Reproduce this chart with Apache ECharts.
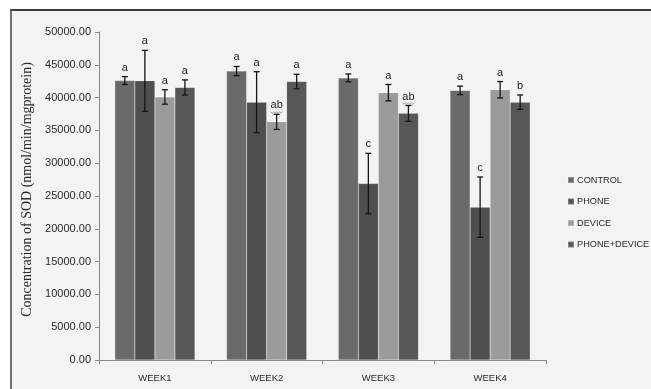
<!DOCTYPE html>
<html>
<head>
<meta charset="utf-8">
<script src="https://cdn.jsdelivr.net/npm/echarts@6/dist/echarts.min.js"></script>
<style>
  html, body { margin: 0; padding: 0; background: #ffffff; }
  #frame {
    position: absolute; left: 10px; top: 9px; width: 700px; height: 420px;
    border-top: 2px solid #3c3c3c; border-left: 2px solid #6e6e6e;
    background: #f3f3f3;
  }
  #chart { position: absolute; left: 0; top: 0; width: 651px; height: 389px; }
</style>
</head>
<body>
<div id="frame"></div>
<div id="chart"></div>
<script>
// Weekly SOD concentration per treatment group
const categories = ['WEEK1', 'WEEK2', 'WEEK3', 'WEEK4'];
const groups = ['CONTROL', 'PHONE', 'DEVICE', 'PHONE+DEVICE'];

const controlValues     = [42600, 44050, 43000, 41100];
const phoneValues       = [42550, 39300, 26900, 23300];
const deviceValues      = [40100, 36300, 40750, 41200];
const phoneDeviceValues = [41550, 42450, 37600, 39300];

// standard deviations drawn as error bars
const controlErr     = [600, 700, 600, 650];
const phoneErr       = [4650, 4650, 4600, 4600];
const deviceErr      = [1100, 1150, 1250, 1250];
const phoneDeviceErr = [1150, 1100, 1200, 1100];

// significance letters
const controlSig     = ['a', 'a', 'a', 'a'];
const phoneSig       = ['a', 'a', 'c', 'c'];
const deviceSig      = ['a', 'ab', 'a', 'a'];
const phoneDeviceSig = ['a', 'a', 'ab', 'b'];

const yTicks = { min: 0, max: 50000, interval: 5000 };

const colors = ['#6a6a6a', '#4f4f4f', '#9b9b9b', '#575757'];
const valueSets = [controlValues, phoneValues, deviceValues, phoneDeviceValues];
const errSets = [controlErr, phoneErr, deviceErr, phoneDeviceErr];
const sigSets = [controlSig, phoneSig, deviceSig, phoneDeviceSig];

const CATEGORY_GAP = 0.283;

const errorData = [];
valueSets.forEach((vals, s) => {
  vals.forEach((v, c) => {
    errorData.push([c, v, errSets[s][c], s, sigSets[s][c]]);
  });
});

const barSeries = groups.map((name, s) => ({
  name: name,
  type: 'bar',
  data: valueSets[s],
  barGap: '0%',
  barCategoryGap: (CATEGORY_GAP * 100) + '%',
  itemStyle: { color: colors[s], borderColor: 'rgba(255,255,255,0.25)', borderWidth: 0.5 },
  z: 2
}));

const errorSeries = {
  type: 'custom',
  name: 'err',
  data: errorData,
  encode: { x: 0, y: 1 },
  z: 5,
  silent: true,
  renderItem: function (params, api) {
    const c = api.value(0);
    const v = api.value(1);
    const e = api.value(2);
    const s = api.value(3);
    const sig = errorData[params.dataIndex][4];
    const band = api.size([1, 0])[0];
    const bw = band * (1 - CATEGORY_GAP) / 4;
    const base = api.coord([c, v]);
    const x = base[0] + (s - 1.5) * bw;
    const top = api.coord([c, v + e])[1];
    const bot = api.coord([c, v - e])[1];
    const cap = 3;
    const stroke = { stroke: '#151515', lineWidth: 1.3 };
    const children = [
      { type: 'line', shape: { x1: x, y1: top, x2: x, y2: bot }, style: stroke },
      { type: 'line', shape: { x1: x - cap, y1: top, x2: x + cap, y2: top }, style: stroke },
      { type: 'line', shape: { x1: x - cap, y1: bot, x2: x + cap, y2: bot }, style: stroke },
      {
        type: 'text',
        style: {
          text: sig, x: x, y: top - 3.5,
          align: 'center', verticalAlign: 'bottom',
          font: '11px "Liberation Sans", sans-serif', fill: '#1e1e1e'
        }
      }
    ];
    if (sig.length > 1) {
      // wavy underline beneath two-letter labels
      const pts = [];
      const w = 12, y0 = top - 2.5;
      for (let i = 0; i <= 8; i++) {
        pts.push([x - w / 2 + i * w / 8, y0 + (i % 2 === 0 ? 0 : 1.3)]);
      }
      children.push({ type: 'polyline', shape: { points: pts }, style: { stroke: '#777', lineWidth: 0.7, fill: null } });
    }
    return { type: 'group', children: children };
  }
};

const chart = echarts.init(document.getElementById('chart'), null, { renderer: 'canvas' });
chart.setOption({
  backgroundColor: 'transparent',
  animation: false,
  grid: { left: 99, right: 105, top: 32, bottom: 29, containLabel: false },
  legend: {
    data: groups,
    orient: 'vertical',
    left: 562,
    top: 169,
    itemWidth: 6,
    itemHeight: 6,
    itemGap: 9.5,
    icon: 'rect',
    textStyle: { fontSize: 9.2, lineHeight: 12, color: '#2a2a2a', fontFamily: 'Liberation Sans', padding: [0, 0, 0, -2] }
  },
  xAxis: {
    type: 'category',
    data: categories,
    axisLine: { lineStyle: { color: '#8a8a8a', width: 1 } },
    axisTick: { show: true, alignWithLabel: false, length: 4, lineStyle: { color: '#8a8a8a' } },
    axisLabel: { fontSize: 9.5, color: '#2a2a2a', fontFamily: 'Liberation Sans', margin: 13 }
  },
  yAxis: {
    type: 'value',
    min: yTicks.min,
    max: yTicks.max,
    interval: yTicks.interval,
    name: 'Concentration of SOD (nmol/min/mgprotein)',
    nameLocation: 'middle',
    nameGap: 63,
    nameTextStyle: { fontFamily: 'Liberation Serif', fontSize: 14, color: '#2a2a2a', padding: [0, 0, 0, 13] },
    splitLine: { show: false },
    axisLine: { show: true, lineStyle: { color: '#8a8a8a', width: 1 } },
    axisTick: { show: true, length: 4, lineStyle: { color: '#8a8a8a' } },
    axisLabel: {
      fontSize: 11, color: '#2a2a2a', fontFamily: 'Liberation Sans', margin: 8,
      formatter: v => v.toFixed(2)
    }
  },
  series: barSeries.concat([errorSeries])
});
</script>
</body>
</html>
